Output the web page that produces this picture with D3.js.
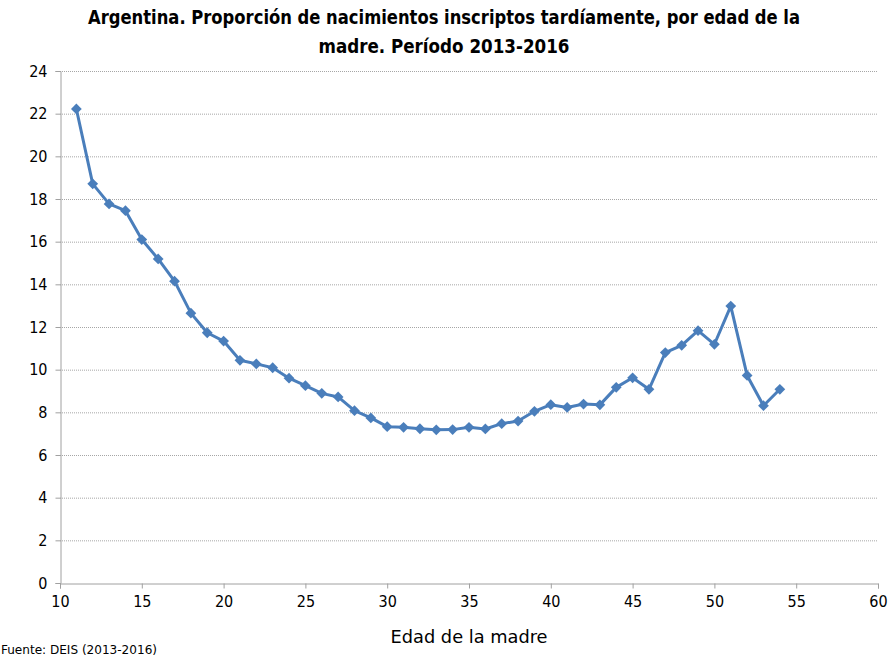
<!DOCTYPE html>
<html><head><meta charset="utf-8">
<script src="https://cdn.jsdelivr.net/npm/d3@7"></script>
<style>body{margin:0;background:#fff}svg{display:block}</style>
</head><body>
<script>
const ages = [11,12,13,14,15,16,17,18,19,20,21,22,23,24,25,26,27,28,29,30,31,32,33,34,35,36,37,38,39,40,41,42,43,44,45,46,47,48,49,50,51,52,53,54];
const values = [22.22,18.71,17.77,17.45,16.1,15.19,14.15,12.65,11.73,11.34,10.44,10.27,10.09,9.6,9.25,8.89,8.72,8.08,7.74,7.33,7.3,7.23,7.18,7.19,7.3,7.22,7.47,7.59,8.05,8.36,8.23,8.39,8.35,9.17,9.62,9.08,10.8,11.14,11.83,11.19,12.98,9.73,8.31,9.08];
const xTicks = [10,15,20,25,30,35,40,45,50,55,60];
const yTicks = [0,2,4,6,8,10,12,14,16,18,20,22,24];
const titleLines = ["Argentina. Proporción de nacimientos inscriptos tardíamente, por edad de la","madre. Período 2013-2016"];
const xTitle = "Edad de la madre";
const source = "Fuente: DEIS (2013-2016)";

const W=888,H=658;
const font = "'DejaVu Sans Condensed','Liberation Sans Narrow','Open Sans',sans-serif";
const svg = d3.select("body").append("svg").attr("width",W).attr("height",H);
const x = d3.scaleLinear().domain([10,60]).range([60,878]);
const y = d3.scaleLinear().domain([0,24]).range([583,71]);

// grid
svg.append("g").selectAll("line").data(yTicks.filter(d=>d>0)).join("line")
  .attr("x1",60).attr("x2",878).attr("y1",d=>y(d)+0.5).attr("y2",d=>y(d)+0.5)
  .attr("stroke","#a6a6a6").attr("stroke-width",1).attr("stroke-dasharray","1,1");

// axes
const yAxis = svg.append("g").attr("transform","translate(60.5,0)")
  .call(d3.axisLeft(y).tickValues(yTicks).tickSize(5).tickPadding(8).tickFormat(d3.format("d")));
const xAxis = svg.append("g").attr("transform","translate(0,583.5)")
  .call(d3.axisBottom(x).tickValues(xTicks).tickSize(5).tickPadding(7).tickFormat(d3.format("d")));
[yAxis,xAxis].forEach(a=>{
  a.select(".domain").attr("stroke","#a0a0a0");
  a.selectAll(".tick line").attr("stroke","#a0a0a0");
  a.selectAll("text").attr("font-family",font).attr("font-size",16).attr("fill","#000");
});

// line
const color="#4a7ebb";
const pts = ages.map((a,i)=>[a,values[i]]);
svg.append("path").datum(pts)
  .attr("fill","none").attr("stroke",color).attr("stroke-width",3).attr("stroke-linejoin","round")
  .attr("d",d3.line().x(d=>x(d[0])).y(d=>y(d[1])));
svg.append("g").selectAll("path").data(pts).join("path")
  .attr("d",d3.symbol(d3.symbolSquare,58))
  .attr("transform",d=>`translate(${x(d[0])},${y(d[1])}) rotate(45)`)
  .attr("fill",color);

// title
const tl = [712,251];
svg.append("g").selectAll("text").data(titleLines).join("text")
  .attr("x",444).attr("y",(d,i)=>24+i*29).attr("text-anchor","middle")
  .attr("font-family",font).attr("font-weight","bold").attr("font-size",19).attr("fill","#000")
  .attr("textLength",(d,i)=>tl[i]).attr("lengthAdjust","spacingAndGlyphs")
  .text(d=>d);
svg.append("text").attr("x",469).attr("y",643).attr("text-anchor","middle")
  .attr("font-family",font).attr("font-size",18).attr("textLength",157).attr("lengthAdjust","spacingAndGlyphs").text(xTitle);
svg.append("text").attr("x",1).attr("y",654)
  .attr("font-family",font).attr("font-size",13).attr("textLength",156).attr("lengthAdjust","spacingAndGlyphs").text(source);
</script>
</body></html>
